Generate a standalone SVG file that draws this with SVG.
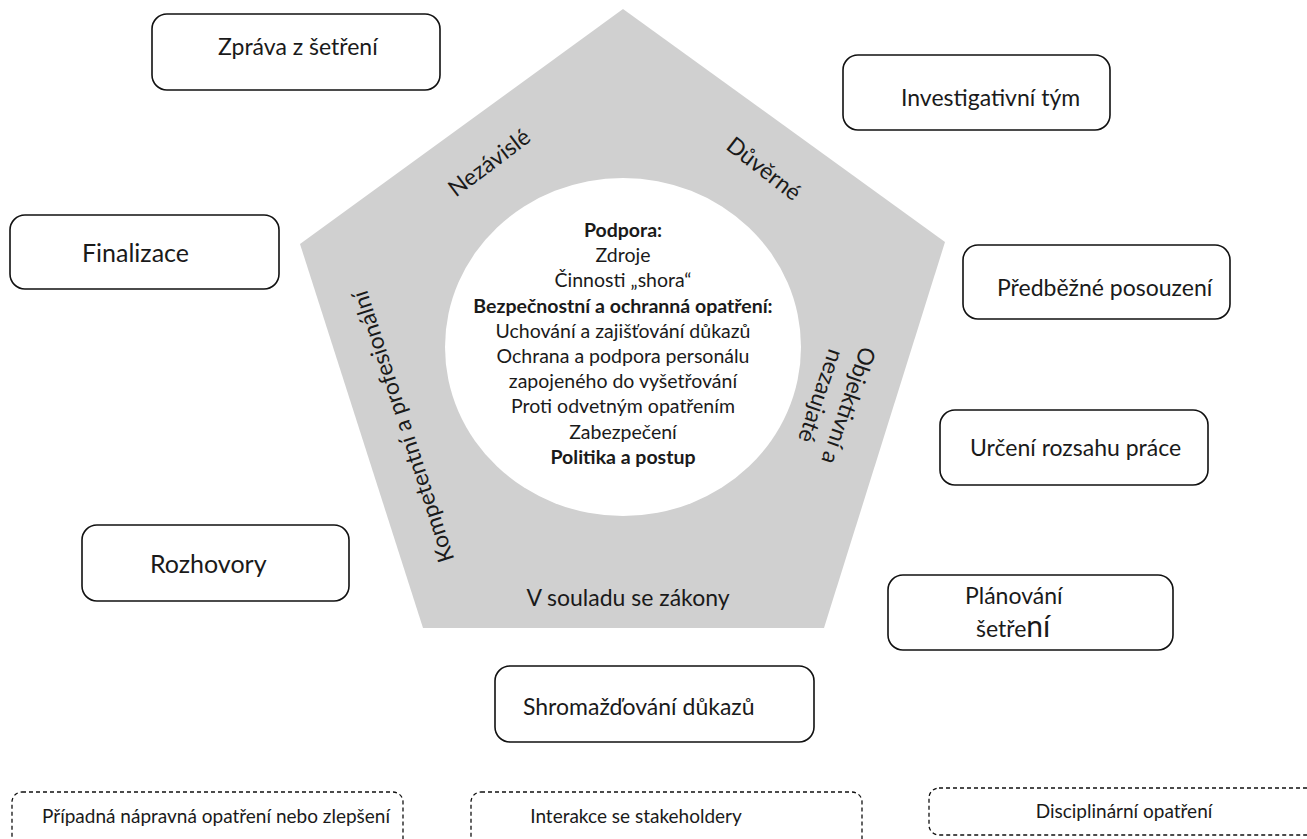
<svg xmlns="http://www.w3.org/2000/svg" width="1307" height="839" viewBox="0 0 1307 839">
<style>
text{font-family:Lato,"Liberation Sans",sans-serif;fill:#1a1a1a}
.box{fill:#fff;stroke:#111;stroke-width:1.6}
.dbox{fill:#fff;stroke:#111;stroke-width:1.3;stroke-dasharray:4 3}
.bt{font-size:23px}
.ct{font-size:19.5px;text-anchor:middle}
.b{font-weight:bold}
.et{font-size:23px;text-anchor:middle}
.st{font-size:19px;text-anchor:middle}
</style>
<rect width="1307" height="839" fill="#fff"/>
<g id="pentagon">
<polygon points="623,9 945,242 824,628 423,628 300,244" fill="#d0d0d0"/>
<ellipse cx="623" cy="347" rx="178" ry="169" fill="#fff"/>
<text class="et" transform="translate(494,169) rotate(-37)">Nezávislé</text>
<text class="et" transform="translate(759,175) rotate(38)">Důvěrné</text>
<text class="et" font-size="24" transform="translate(402,427) rotate(-108)" dominant-baseline="central">Kompetentní a profesionální</text>
<text class="et" transform="translate(841,403) rotate(109)"><tspan x="0" y="0">Objektivní a</tspan><tspan x="0" y="29">nezaujaté</tspan></text>
<text class="et" x="628" y="606">V souladu se zákony</text>
</g>
<g id="center-text">
<text class="ct b" x="623" y="237">Podpora:</text>
<text class="ct" x="623" y="262">Zdroje</text>
<text class="ct" x="623" y="287">Činnosti „shora“</text>
<text class="ct b" x="623" y="313">Bezpečnostní a ochranná opatření:</text>
<text class="ct" x="623" y="338">Uchování a zajišťování důkazů</text>
<text class="ct" x="623" y="363">Ochrana a podpora personálu</text>
<text class="ct" x="623" y="388">zapojeného do vyšetřování</text>
<text class="ct" x="623" y="413">Proti odvetným opatřením</text>
<text class="ct" x="623" y="439">Zabezpečení</text>
<text class="ct b" x="623" y="464">Politika a postup</text>
</g>
<g id="zprava"><rect class="box" x="152" y="14" width="288" height="76" rx="15"/><text class="bt" x="218" y="55">Zpráva z šetření</text></g>
<g id="investigativni"><rect class="box" x="843" y="55" width="267" height="75" rx="15"/><text class="bt" x="901" y="106">Investigativní tým</text></g>
<g id="finalizace"><rect class="box" x="10" y="215" width="269" height="74" rx="15"/><text font-size="25" x="82" y="262">Finalizace</text></g>
<g id="predbezne"><rect class="box" x="963" y="245" width="267" height="74" rx="15"/><text class="bt" x="997" y="296">Předběžné posouzení</text></g>
<g id="urceni"><rect class="box" x="940" y="410" width="268" height="75" rx="15"/><text class="bt" x="970" y="456">Určení rozsahu práce</text></g>
<g id="rozhovory"><rect class="box" x="82" y="525" width="267" height="76" rx="15"/><text font-size="25" x="150" y="573">Rozhovory</text></g>
<g id="planovani"><rect class="box" x="888" y="575" width="285" height="75" rx="15"/><text class="bt" x="965" y="604">Plánování</text><text class="bt" x="976" y="637">šetře<tspan font-size="30">ní</tspan></text></g>
<g id="shromazdovani"><rect class="box" x="495" y="666" width="319" height="76" rx="15"/><text class="bt" x="523" y="715">Shromažďování důkazů</text></g>
<g id="napravna"><rect class="dbox" x="12" y="792" width="391" height="70" rx="10"/><text class="st" x="216" y="823">Případná nápravná opatření nebo zlepšení</text></g>
<g id="interakce"><rect class="dbox" x="471" y="792" width="391" height="70" rx="10"/><text class="st" x="636" y="823">Interakce se stakeholdery</text></g>
<g id="disciplinarni"><rect class="dbox" x="929" y="788" width="392" height="47" rx="10"/><text class="st" x="1124" y="818">Disciplinární opatření</text></g>
<g id="connectors"></g>
</svg>
